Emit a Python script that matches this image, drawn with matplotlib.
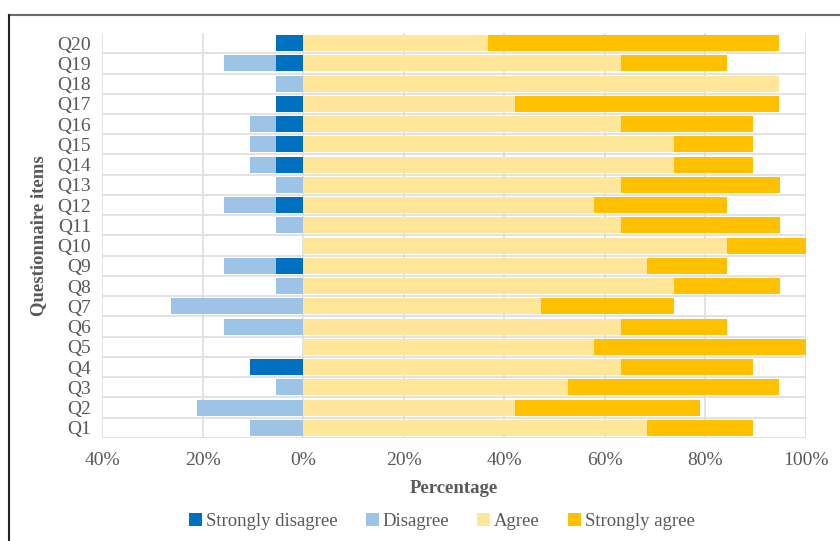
import matplotlib
matplotlib.use("Agg")
import numpy as np
from matplotlib import pyplot as plt
from matplotlib.lines import Line2D

plt.rcParams['font.family'] = ['Liberation Serif', 'DejaVu Serif']

# percentages per item, Q1 .. Q20
items = ['Q%d' % i for i in range(1, 21)]
strongly_disagree = [0, 0, 0, 10.5, 0, 0, 0, 0, 5.3, 0,
                     0, 5.3, 0, 5.3, 5.3, 5.3, 5.3, 0, 5.3, 5.3]
disagree = [10.5, 21.1, 5.3, 0, 0, 15.8, 26.3, 5.3, 10.5, 0,
            5.3, 10.5, 5.3, 5.3, 5.3, 5.3, 0, 5.3, 10.5, 0]
agree = [68.4, 42.1, 52.6, 63.2, 57.9, 63.2, 47.4, 73.7, 68.4, 84.2,
         63.2, 57.9, 63.2, 73.7, 73.7, 63.2, 42.1, 94.7, 63.2, 36.8]
strongly_agree = [21.1, 36.8, 42.1, 26.3, 42.1, 21.1, 26.3, 21.1, 15.8, 15.8,
                  31.6, 26.3, 31.6, 15.8, 15.8, 26.3, 52.6, 0, 21.1, 57.9]
tick_vals = [-40, -20, 0, 20, 40, 60, 80, 100]

c_sd, c_d, c_a, c_sa = '#0070C0', '#9DC3E6', '#FFE699', '#FFC000'
grey = '#595959'

sd = np.array(strongly_disagree)
d = np.array(disagree)
a = np.array(agree)
sa = np.array(strongly_agree)
y = np.arange(len(items))

fig = plt.figure(figsize=(8.4, 5.41), dpi=100)
ax = fig.add_axes([0.1214, 0.1904, 0.8381, 0.7486])

h = 0.78
ax.barh(y, -sd, height=h, color=c_sd, label='Strongly disagree', zorder=3)
ax.barh(y, -d, left=-sd, height=h, color=c_d, label='Disagree', zorder=3)
ax.barh(y, a, height=h, color=c_a, label='Agree', zorder=3)
ax.barh(y, sa, left=a, height=h, color=c_sa, label='Strongly agree', zorder=3)

ax.set_xlim(-40, 100)
ax.set_ylim(-0.5, len(items) - 0.5)
ax.set_xticks(tick_vals)
ax.set_xticklabels(['%d%%' % abs(v) for v in tick_vals])
ax.set_yticks(y)
ax.set_yticklabels(items)

# vertical grid at ticks, horizontal lines between items
for v in tick_vals:
    ax.axvline(v, color='#dedede', lw=1.2, zorder=1)
for b in np.arange(-0.5, len(items) - 1, 1.0):
    ax.axhline(b, color='#dedede', lw=1.2, zorder=1)

for s in ax.spines.values():
    s.set_visible(False)
ax.tick_params(length=0, labelsize=14, colors=grey)
ax.tick_params(axis='y', pad=8)
ax.tick_params(axis='x', pad=10)

ax.set_xlabel('Percentage', fontsize=13.5, fontweight='bold', color=grey, labelpad=8)
ax.set_ylabel('Questionnaire items', fontsize=13.5, fontweight='bold', color=grey, labelpad=7)

handles, labels = ax.get_legend_handles_labels()
fig.legend(handles, labels, loc='center', bbox_to_anchor=(0.526, 0.036), ncol=4,
           frameon=False, fontsize=13.5, handlelength=0.7, handleheight=0.7,
           handletextpad=0.2, columnspacing=1.5, labelcolor=grey)

# outer frame lines
fig.add_artist(Line2D([0.011, 1.0], [0.972, 0.972], color='#6b6b6b', lw=1.5))
fig.add_artist(Line2D([0.011, 0.011], [0.0, 0.972], color='#222222', lw=1.5))

fig.savefig('out.png', dpi=100)
